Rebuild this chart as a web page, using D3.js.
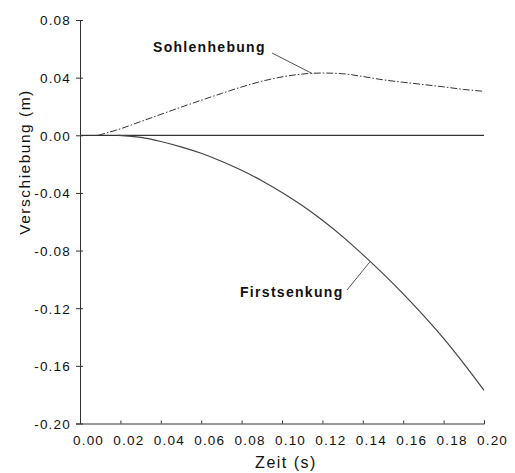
<!DOCTYPE html>
<html>
<head>
<meta charset="utf-8">
<script src="https://cdn.jsdelivr.net/npm/d3@7/dist/d3.min.js"></script>
<style>
  html, body { margin: 0; padding: 0; background: #fff; }
  svg { display: block; }
  text { font-family: "Liberation Sans", Arial, Helvetica, sans-serif; fill: #111; }
</style>
</head>
<body>
<svg id="chart" width="515" height="473"></svg>
<script>
// Zeit (s)
const sohleTime = [0.009, 0.01, 0.02, 0.03, 0.04, 0.05, 0.06, 0.07, 0.08, 0.09, 0.10,
                   0.11, 0.12, 0.13, 0.14, 0.15, 0.16, 0.17, 0.18, 0.19, 0.20];
// Sohlenhebung (m)
const sohleValues = [0.000, 0.0004, 0.0045, 0.0095, 0.0145, 0.0195, 0.0243, 0.029, 0.0335, 0.0375, 0.0405,
                     0.0425, 0.0432, 0.0427, 0.0408, 0.0385, 0.0368, 0.0352, 0.0336, 0.0318, 0.0305];

const firstTime = [0.019, 0.03, 0.04, 0.05, 0.06, 0.07, 0.08, 0.09, 0.10,
                   0.11, 0.12, 0.13, 0.14, 0.15, 0.16, 0.17, 0.18, 0.19, 0.20];
// Firstsenkung (m)
const firstValues = [0.000, -0.0015, -0.0043, -0.0080, -0.0125, -0.0180, -0.0243, -0.0315, -0.0397,
                     -0.0488, -0.0590, -0.0703, -0.0828, -0.0960, -0.1100, -0.1250, -0.1410, -0.1585, -0.1770];

const xTicks = [0.00, 0.02, 0.04, 0.06, 0.08, 0.10, 0.12, 0.14, 0.16, 0.18, 0.20];
const yTicks = [0.08, 0.04, 0.00, -0.04, -0.08, -0.12, -0.16, -0.20];

const svg = d3.select("#chart");
const plotLeft = 80, plotRight = 484, plotTop = 20, plotBottom = 423.5;

const x = d3.scaleLinear().domain([0, 0.2]).range([plotLeft, plotRight]);
const y = d3.scaleLinear().domain([-0.2, 0.08]).range([plotBottom, plotTop]);

const fmt = d3.formatLocale({ decimal: ".", thousands: ",", grouping: [3], currency: ["", ""], minus: "-" }).format(".2f");
const axisColor = "#333";

// y axis: ticks cross the axis line
const yAxis = svg.append("g").attr("transform", `translate(${plotLeft},0)`)
  .call(d3.axisLeft(y).tickValues(yTicks).tickFormat(fmt).tickSizeOuter(0).tickSize(4));
yAxis.select(".domain").attr("stroke", axisColor);
yAxis.selectAll(".tick line").attr("stroke", axisColor).attr("x1", 3);
yAxis.selectAll(".tick text")
  .attr("x", -9).attr("dy", "0.36em")
  .style("font-size", "13.5px").style("letter-spacing", "1.2px").attr("fill", "#111");

// x axis: ticks point up into the plot
const xAxis = svg.append("g").attr("transform", `translate(0,${plotBottom})`)
  .call(d3.axisBottom(x).tickValues(xTicks).tickFormat(fmt).tickSizeOuter(0).tickSize(-3));
xAxis.select(".domain").attr("stroke", axisColor);
xAxis.selectAll(".tick line").attr("stroke", axisColor);
xAxis.selectAll(".tick text")
  .attr("x", 8).attr("y", 21).attr("dy", 0)
  .style("font-size", "13.5px").style("letter-spacing", "1.2px").attr("fill", "#111");
yAxis.attr("font-family", null);
xAxis.attr("font-family", null);

// zero line
svg.append("line")
  .attr("x1", x(0)).attr("x2", x(0.2)).attr("y1", y(0)).attr("y2", y(0))
  .attr("stroke", "#333").attr("stroke-width", 1.2);

const line = d3.line().x(d => x(d[0])).y(d => y(d[1])).curve(d3.curveMonotoneX);

svg.append("path")
  .datum(sohleTime.map((t, i) => [t, sohleValues[i]]))
  .attr("d", line).attr("fill", "none")
  .attr("stroke", "#333").attr("stroke-width", 1)
  .attr("stroke-dasharray", "7,2,1.5,2");

svg.append("path")
  .datum(firstTime.map((t, i) => [t, firstValues[i]]))
  .attr("d", line).attr("fill", "none")
  .attr("stroke", "#444").attr("stroke-width", 1.2);

// axis titles
svg.append("text")
  .attr("x", 286).attr("y", 468).attr("text-anchor", "middle")
  .style("font-size", "16px").style("letter-spacing", "1.5px")
  .text("Zeit (s)");

svg.append("text")
  .attr("transform", "translate(30,162) rotate(-90)").attr("text-anchor", "middle")
  .style("font-size", "15.5px").style("letter-spacing", "1.5px")
  .text("Verschiebung (m)");

// series labels with leader lines
svg.append("line").attr("x1", 272).attr("y1", 53).attr("x2", x(0.115)).attr("y2", y(0.0428))
  .attr("stroke", "#555").attr("stroke-width", 1);
svg.append("text").attr("x", 153).attr("y", 52)
  .style("font-size", "14px").style("font-weight", "bold").style("letter-spacing", "1.3px")
  .text("Sohlenhebung");

svg.append("line").attr("x1", 347).attr("y1", 290).attr("x2", x(0.1436)).attr("y2", y(-0.0877))
  .attr("stroke", "#555").attr("stroke-width", 1);
svg.append("text").attr("x", 240).attr("y", 297)
  .style("font-size", "14px").style("font-weight", "bold").style("letter-spacing", "1.3px")
  .text("Firstsenkung");
</script>
</body>
</html>
